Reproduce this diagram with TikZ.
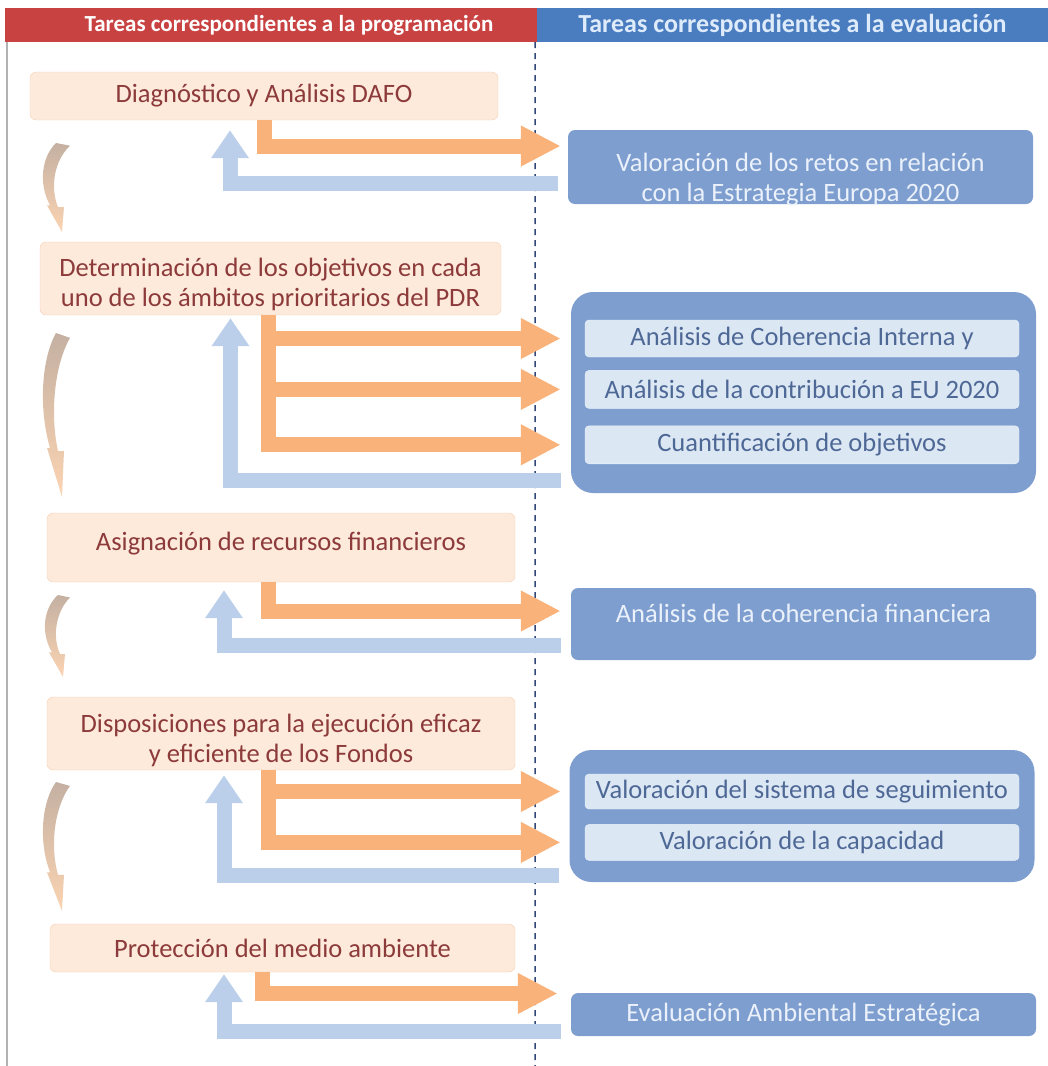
\documentclass[tikz,border=0pt]{standalone}
\usepackage{fontspec}
\setmainfont{Carlito}
\usetikzlibrary{%
  arrows.meta,% Triangle tips
  positioning% wg. " of "
}
\definecolor{redH}{RGB}{201,66,66}
\definecolor{blueH}{RGB}{74,124,192}
\definecolor{blueHT}{RGB}{222,235,250}
\definecolor{peachL}{RGB}{253,234,218}
\definecolor{peachD}{RGB}{245,208,182}
\definecolor{brownT}{RGB}{140,58,58}
\definecolor{orangeA}{RGB}{249,178,122}
\definecolor{blueA}{RGB}{188,207,234}
\definecolor{blueB}{RGB}{126,158,207}
\definecolor{blueT}{RGB}{234,241,250}
\definecolor{blueL}{RGB}{220,231,244}
\definecolor{blueD}{RGB}{78,104,150}
\definecolor{navy}{RGB}{50,70,120}
\definecolor{tanC}{RGB}{196,176,162}
\definecolor{peachC}{RGB}{251,212,178}

\begin{document}
\begin{tikzpicture}[x=1pt,y=-1pt,
	programa/.style={
	rectangle,rounded corners=6pt,
	draw=peachD,fill=peachL,
	text=brownT,inner sep=0pt,
	font=\fontsize{26.5}{30}\selectfont
	},evaluacion/.style={
	rectangle,rounded corners=7pt,
	fill=blueB,text=blueT,inner sep=0pt,
	font=\fontsize{26.5}{30}\selectfont
	},grupo/.style={
	rectangle,rounded corners=22pt,
	fill=blueB,minimum width=465pt
	},subtarea/.style={
	rectangle,rounded corners=4pt,
	draw=white!50!blueL,fill=blueL,
	text=blueD,minimum width=434pt,inner sep=0pt,
	font=\fontsize{26.5}{30}\selectfont
	},cabecera/.style={
	rectangle,minimum height=34pt,inner sep=0pt,
	font=\fontsize{23}{26}\selectfont\bfseries
	},flechaP/.style={
	line width=15pt,draw=orangeA,
	-{Triangle[length=40pt,width=38pt]}
	},flechaE/.style={
	line width=15pt,draw=blueA,shorten <=10pt,
	-{Triangle[length=28pt,width=36pt]}
	}
]
\useasboundingbox (0,0) rectangle (1048,1066);

% Cabeceras
\node (atomPROG) [cabecera,fill=redH,text=white,minimum width=532pt] at (271,25) {\hspace*{36pt}Tareas correspondientes a la programación};
\node (atomEVAL) [cabecera,fill=blueH,text=blueHT,minimum width=511pt,font=\fontsize{26}{28}\selectfont\bfseries] at (792.5,25) {Tareas correspondientes a la evaluación};
\coordinate (POSK) at (7,1066);
\coordinate (POSL) at (535,1066);
\draw[gray!60,line width=1.2pt] (7,42) -- (POSK);
\draw[navy,line width=1.5pt,dash pattern=on 6pt off 5pt] ([xshift=-2pt]atomPROG.south east) -- (POSL);

% Programacion
\node (atomDAFO) [programa,minimum width=468pt,minimum height=48pt] at (264,96) {Diagnóstico y Análisis DAFO};
\node (atomOBJ) [programa,minimum width=461pt,minimum height=73pt] at (270.5,278.5) {\raisebox{-7pt}[\height][\depth]{{\renewcommand{\arraystretch}{1}\begin{tabular}{c} Determinación de los objetivos en cada \\ uno de los ámbitos prioritarios del PDR \end{tabular}}}};
\node (atomREC) [programa,minimum width=468pt,minimum height=69pt] at (281,547.5) {\raisebox{4pt}[\height][\depth]{Asignación de recursos financieros}};
\node (atomDISP) [programa,minimum width=468pt,minimum height=73pt] at (281,733.5) {\raisebox{-8pt}[\height][\depth]{{\renewcommand{\arraystretch}{1}\begin{tabular}{c} Disposiciones para la ejecución eficaz \\ y eficiente de los Fondos \end{tabular}}}};
\node (atomPMA) [programa,minimum width=465pt,minimum height=48pt] at (282.5,948) {Protección del medio ambiente};

% Evaluacion
\node (atomRETOS) [evaluacion,minimum width=465pt,minimum height=74pt] at (800.5,167) {\raisebox{-13pt}[\height][\depth]{{\renewcommand{\arraystretch}{1}\begin{tabular}{c} Valoración de los retos en relación \\ con la Estrategia Europa 2020 \end{tabular}}}};
\node (atomGRP1) [grupo,minimum height=201pt] at (803.5,392.5) {};
\node (atomCOH) [subtarea,minimum height=37pt] at (802,338.5) {Análisis de Coherencia Interna y};
\node (atomEU) [subtarea,minimum height=38pt,below=13pt of atomCOH] {Análisis de la contribución a EU 2020};
\node (atomCUANT) [subtarea,minimum height=38pt,below=17pt of atomEU] {Cuantificación de objetivos};
\node (atomFIN) [evaluacion,minimum width=465pt,minimum height=72pt] at (803.5,624) {\raisebox{11pt}[\height][\depth]{Análisis de la coherencia financiera}};
\node (atomGRP2) [grupo,minimum height=132pt] at (802,816) {};
\node (atomSEG) [subtarea,minimum height=35pt] at (802,791.5) {Valoración del sistema de seguimiento};
\node (atomCAP) [subtarea,minimum height=36pt,below=15pt of atomSEG] {Valoración de la capacidad};
\node (atomEAE) [evaluacion,minimum width=465pt,minimum height=43pt] at (803.5,1014.5) {Evaluación Ambiental Estratégica};

% flechas curvas (x,y)
\shade[top color=tanC,bottom color=peachC] (56,143) -- (70,145.7) .. controls (54,160.8) and (50,187.5) .. (58,207.1) -- (64,207.1) -- (62,232) -- (47,205.3) -- (50,205.3) .. controls (38,183) and (42,156.4) .. (56,143) -- cycle;
\shade[top color=tanC,bottom color=peachC] (56,333) -- (70,337.9) .. controls (54,365.8) and (50,415) .. (58,451) -- (64,451) -- (62,497) -- (47,447.8) -- (50,447.8) .. controls (38,406.8) and (42,357.6) .. (56,333) -- cycle;
\shade[top color=tanC,bottom color=peachC] (58,595) -- (70,597.5) .. controls (56,611.4) and (52,636) .. (60,654) -- (65,654) -- (63,677) -- (49,652.4) -- (52,652.4) .. controls (40,631.9) and (44,607.3) .. (58,595) -- cycle;
\shade[top color=tanC,bottom color=peachC] (56,782) -- (70,785.9) .. controls (54,807.8) and (50,846.5) .. (58,874.9) -- (64,874.9) -- (62,911) -- (47,872.3) -- (50,872.3) .. controls (38,840) and (42,801.4) .. (56,782) -- cycle;

% programacion -> evaluacion
\draw[flechaP,shorten >=7pt] (atomDAFO.south) |- ([yshift=21pt]atomRETOS.west);
\draw[flechaP,shorten >=24pt] ([xshift=-2pt]atomOBJ.south) |- (atomCOH.west);
\draw[flechaP,shorten >=24pt] ([xshift=-2pt]atomOBJ.south) |- (atomEU.west);
\draw[flechaP,shorten >=24pt] ([xshift=-2pt]atomOBJ.south) |- (atomCUANT.west);
\draw[flechaP,shorten >=10pt] ([xshift=-13pt]atomREC.south) |- ([yshift=13pt]atomFIN.west);
\draw[flechaP,shorten >=24pt] ([xshift=-13pt]atomDISP.south) |- (atomSEG.west);
\draw[flechaP,shorten >=24pt] ([xshift=-13pt]atomDISP.south) |- (atomCAP.west);
\draw[flechaP,shorten >=13pt] ([xshift=-20pt]atomPMA.south) |- ([yshift=21pt]atomEAE.west);

% evaluacion -> programacion
\draw[flechaE,shorten >=10pt] ([yshift=-16pt]atomRETOS.west) -| ([xshift=-34pt]atomDAFO.south);
\draw[flechaE,shorten >=3pt] ([yshift=13pt]atomGRP1.south west) -| ([xshift=-40pt]atomOBJ.south);
\draw[flechaE,shorten >=8pt] ([yshift=-21pt]atomFIN.west) -| ([xshift=-57pt]atomREC.south);
\draw[flechaE,shorten >=5pt] ([yshift=7pt]atomGRP2.south west) -| ([xshift=-57pt]atomDISP.south);
\draw[flechaE,shorten >=2pt] ([yshift=-16.5pt]atomEAE.west) -| ([xshift=-58.5pt]atomPMA.south);

\end{tikzpicture}
\end{document}
